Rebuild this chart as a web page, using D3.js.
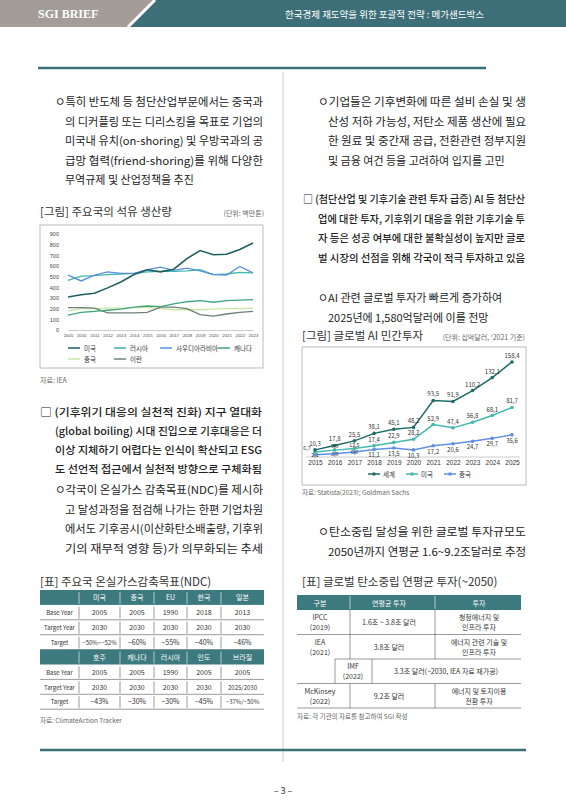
<!DOCTYPE html>
<html><head><meta charset="utf-8">
<script src="https://d3js.org/d3.v7.min.js"></script>
<style>body{margin:0;background:#fff}svg{display:block;font-family:"Noto Sans CJK KR",sans-serif}</style>
</head><body><svg id="s" width="566" height="800"></svg>
<script>
const oilYears=["2005","2010","2011","2012","2013","2014","2015","2016","2017","2018","2019","2020","2021","2022","2023"];
const oilUS=[310,330,345,395,450,520,565,545,570,670,745,705,710,755,815];
const oilRussia=[465,505,510,520,525,530,545,550,550,555,565,520,525,540,535];
const oilSaudi=[515,460,515,545,530,530,565,590,560,580,555,520,515,595,535];
const oilCanada=[140,165,175,185,195,215,225,220,245,265,275,260,275,280,285];
const oilChina=[180,200,200,205,205,210,215,200,190,190,190,195,200,200,205];
const oilIran=[210,210,205,160,160,160,165,215,215,200,145,130,150,165,175];
const oilNames=["미국","러시아","사우디아라비아","캐나다","중국","이란"];
const oilColors=["#1f5f63","#3fb5b0","#5b8fe0","#3fa579","#c6e7a5","#6f7f78"];
const oilTicks=[0,100,200,300,400,500,600,700,800,900];
const aiYears=["2015","2016","2017","2018","2019","2020","2021","2022","2023","2024","2025"];
const aiWorld=[10.3,17.8,25.5,38.1,45.1,48.2,93.5,91.9,110.2,132.1,158.4];
const aiUS=[6.7,9.9,12.5,17.4,22.9,28.2,52.9,47.4,56.8,68.1,81.7];
const aiChina=[2.1,3.9,6.6,11.1,13.5,10.3,17.2,20.6,24.7,29.7,35.6];
const aiNames=["세계","미국","중국"];
const aiColors=["#1f6b66","#45b8ad","#5f8fe8"];
const ndcCols1=["미국","중국","EU","한국","일본"];
const ndcBase1=["2005","2005","1990","2018","2013"];
const ndcTarget1=["2030","2030","2030","2030","2030"];
const ndcPct1=["−50%~−52%","−60%","−55%","−40%","−46%"];
const ndcCols2=["호주","캐나다","러시아","인도","브라질"];
const ndcBase2=["2005","2005","1990","2005","2005"];
const ndcTarget2=["2030","2030","2030","2030","2025/2030"];
const ndcPct2=["−43%","−30%","−30%","−45%","−37%/−50%"];

const svg=d3.select("#s");
const T="#3d6f78";
svg.append("rect").attr("x",0).attr("y",0).attr("width",566).attr("height",27).attr("fill",T);
svg.append("path").attr("d","M0,0H155L128,27H0Z").attr("fill","#a39c98");
svg.append("path").attr("d","M155,0L128,27").attr("stroke","#fff").attr("stroke-width",3);
svg.append("text").attr("x",38).attr("y",18).attr("fill","#fff").attr("font-family","Liberation Serif,serif").attr("font-weight","bold").attr("font-size",12).text("SGI BRIEF");
svg.append("text").attr("x",484).attr("y",18).attr("text-anchor","end").attr("fill","#fff").attr("font-size",9.5).text("한국경제 재도약을 위한 포괄적 전략 : 메가샌드박스");
svg.append("line").attr("x1",38).attr("x2",486).attr("y1",68).attr("y2",68).attr("stroke",T).attr("stroke-width",2.5);
svg.append("line").attr("x1",283).attr("x2",283).attr("y1",72).attr("y2",762).attr("stroke","#ccc").attr("stroke-width",1);
svg.append("line").attr("x1",40).attr("x2",526).attr("y1",750).attr("y2",750).attr("stroke",T).attr("stroke-width",2.5);
svg.append("text").attr("x",283).attr("y",794).attr("text-anchor","middle").attr("font-size",9).attr("fill","#333").text("– 3 –");

function lines(x,y,dy,arr,opt={}){arr.forEach((t,i)=>{const full=opt.len&&!(opt.last===false&&i==arr.length-1);svg.append("text").attr("x",i==0?x:x+(opt.ind||0)).attr("y",y+i*dy).attr("font-size",opt.fs||11).attr("fill","#222").attr("font-weight",opt.w||"normal").attr("textLength",full?(i==0?opt.len:opt.len-(opt.ind||0)):null).attr("lengthAdjust","spacingAndGlyphs").text(t);});}
lines(55,106,19.5,["ㅇ특히 반도체 등 첨단산업부문에서는 중국과","의 디커플링 또는 디리스킹을 목표로 기업의","미국내 유치(on-shoring) 및 우방국과의 공","급망 협력(friend-shoring)를 위해 다양한","무역규제 및 산업정책을 추진"],{ind:10,len:208,last:false});
lines(318,106,19.5,["ㅇ기업들은 기후변화에 따른 설비 손실 및 생","산성 저하 가능성, 저탄소 제품 생산에 필요","한 원료 및 중간재 공급, 전환관련 정부지원","및 금융 여건 등을 고려하여 입지를 고민"],{ind:10,len:208,last:false});
lines(303,203,19.5,["□ (첨단산업 및 기후기술 관련 투자 급증) AI 등 첨단산","업에 대한 투자, 기후위기 대응을 위한 기후기술 투","자 등은 성공 여부에 대한 불확실성이 높지만 글로","벌 시장의 선점을 위해 각국이 적극 투자하고 있음"],{ind:15,len:222,w:"500",fs:10.5});
lines(318,302,19.5,["ㅇAI 관련 글로벌 투자가 빠르게 증가하여","2025년에 1,580억달러에 이를 전망"],{ind:10});
lines(40,416,19,["□ (기후위기 대응의 실천적 진화) 지구 열대화","(global boiling) 시대 진입으로 기후대응은 더","이상 지체하기 어렵다는 인식이 확산되고 ESG","도 선언적 접근에서 실천적 방향으로 구체화됨"],{ind:15,len:222,w:"500",fs:10.5});
lines(55,494,19.5,["ㅇ각국이 온실가스 감축목표(NDC)를 제시하","고 달성과정을 점검해 나가는 한편 기업차원","에서도 기후공시(이산화탄소배출량, 기후위","기의 재무적 영향 등)가 의무화되는 추세"],{ind:10,len:208});
lines(318,536,19.5,["ㅇ탄소중립 달성을 위한 글로벌 투자규모도","2050년까지 연평균 1.6~9.2조달러로 추정"],{ind:10,len:208});

function title(x,y,t,u,ux){svg.append("text").attr("x",x).attr("y",y).attr("font-size",11.5).attr("fill","#333").text(t);if(u)svg.append("text").attr("x",ux).attr("y",y).attr("text-anchor","end").attr("font-size",7).attr("fill","#666").text(u);}
title(40,216,"[그림] 주요국의 석유 생산량","(단위: 백만톤)",264);
svg.append("rect").attr("x",40).attr("y",225).attr("width",223).attr("height",143).attr("fill","none").attr("stroke","#bbb");
const x1=d3.scalePoint().domain(oilYears).range([68,253]);
const y1=d3.scaleLinear().domain([0,900]).range([330,234]);
const g1=svg.append("g");
g1.append("g").attr("transform","translate(62,0)").call(d3.axisLeft(y1).tickValues(oilTicks).tickSize(0)).call(g=>{g.select(".domain").remove();g.selectAll("text").attr("font-size",5.5).attr("fill","#444").attr("x",-3);});
g1.append("g").attr("transform","translate(0,330)").call(d3.axisBottom(x1).tickSize(0)).call(g=>{g.select(".domain").attr("stroke","#ccc");g.selectAll("text").attr("font-size",4.3).attr("fill","#444").attr("dy","0.9em");});
const oilSeries=[oilUS,oilRussia,oilSaudi,oilCanada,oilChina,oilIran];
const ln1=d3.line().x((d,i)=>x1(oilYears[i])).y(d=>y1(d));
[4,5,3,1,2,0].forEach(k=>g1.append("path").attr("d",ln1(oilSeries[k])).attr("fill","none").attr("stroke",oilColors[k]).attr("stroke-width",k==0?1.6:1.3));
const lp=[[68,348],[114,348],[160,348],[218,348],[68,359],[114,359]];
oilNames.forEach((n,k)=>{g1.append("line").attr("x1",lp[k][0]).attr("x2",lp[k][0]+12).attr("y1",lp[k][1]).attr("y2",lp[k][1]).attr("stroke",oilColors[k]).attr("stroke-width",1.5);g1.append("text").attr("x",lp[k][0]+16).attr("y",lp[k][1]+2.5).attr("font-size",6.5).attr("fill","#333").text(n);});
svg.append("text").attr("x",40).attr("y",383).attr("font-size",7).attr("fill","#666").text("자료: IEA");

title(302,340,"[그림] 글로벌 AI 민간투자","(단위: 십억달러, '2021 기준)",525);
svg.append("rect").attr("x",302).attr("y",347).attr("width",224).attr("height",138).attr("fill","none").attr("stroke","#bbb");
const x2=d3.scalePoint().domain(aiYears).range([315,512]);
const y2=d3.scaleLinear().domain([0,160]).range([456,361]);
const g2=svg.append("g");
g2.append("g").attr("transform","translate(0,457)").call(d3.axisBottom(x2).tickSize(0)).call(g=>{g.select(".domain").attr("stroke","#ccc").attr("d","M306,0H520");g.selectAll("text").attr("font-size",6.5).attr("fill","#333").attr("dy","0.75em");});
const aiSeries=[aiWorld,aiUS,aiChina];
const ln2=d3.line().x((d,i)=>x2(aiYears[i])).y(d=>y2(d));
[2,1,0].forEach(k=>{g2.append("path").attr("d",ln2(aiSeries[k])).attr("fill","none").attr("stroke",aiColors[k]).attr("stroke-width",1.5);
 g2.selectAll(null).data(aiSeries[k]).join("circle").attr("cx",(d,i)=>x2(aiYears[i])).attr("cy",d=>y2(d)).attr("r",1.8).attr("fill",aiColors[k]);});
[0,1,2].forEach(k=>g2.selectAll(null).data(aiSeries[k]).join("text").attr("x",(d,i)=>x2(aiYears[i])+(i==0&&k==1?-8:0)).attr("y",(d,i)=>k==2?y2(d)+(i<3?2:8):(k==1&&i<3?y2(d)-2:y2(d)-4)).attr("text-anchor","middle").attr("font-size",(d,i)=>i<3&&k>0?5.3:6).attr("fill","#333").text(d=>d.toFixed(1).replace(".",",")));
aiNames.forEach((n,k)=>{const lx=368+k*38;g2.append("line").attr("x1",lx).attr("x2",lx+12).attr("y1",474).attr("y2",474).attr("stroke",aiColors[k]).attr("stroke-width",1.5);g2.append("circle").attr("cx",lx+6).attr("cy",474).attr("r",1.8).attr("fill",aiColors[k]);g2.append("text").attr("x",lx+15).attr("y",476.5).attr("font-size",6.5).attr("fill","#333").text(n);});
svg.append("text").attr("x",302).attr("y",495).attr("font-size",6.5).attr("fill","#666").text("자료: Statista(2023); Goldman Sachs");

title(40,586,"[표] 주요국 온실가스감축목표(NDC)");
const tx=[40,79,120,154,187,221,264], rh=14.9, ty=590;
const rows=[["",...ndcCols1],["Base Year",...ndcBase1],["Target Year",...ndcTarget1],["Target",...ndcPct1],["",...ndcCols2],["Base Year",...ndcBase2],["Target Year",...ndcTarget2],["Target",...ndcPct2]];
rows.forEach((r,i)=>{const y=ty+i*rh,hd=(i%4==0);
 if(hd)svg.append("rect").attr("x",40).attr("y",y).attr("width",224).attr("height",rh).attr("fill","#3d7a80");
 else svg.append("line").attr("x1",40).attr("x2",264).attr("y1",y+rh).attr("y2",y+rh).attr("stroke","#555").attr("stroke-width",0.6);
 r.forEach((c,j)=>{svg.append("text").attr("x",(tx[j]+tx[j+1])/2).attr("y",y+rh/2+2.7).attr("text-anchor","middle").attr("font-size",j==0?6:(c.length>6?6:7)).attr("fill",hd?"#fff":"#333").text(c);
  if(j>0)svg.append("line").attr("x1",tx[j]).attr("x2",tx[j]).attr("y1",y+2).attr("y2",y+rh-1).attr("stroke",hd?"#fff":"#555").attr("stroke-width",0.6);});});
svg.append("text").attr("x",40).attr("y",723).attr("font-size",6.5).attr("fill","#666").text("자료: ClimateAction Tracker");

title(302,586,"[표] 글로벌 탄소중립 연평균 투자(~2050)");
svg.append("rect").attr("x",297).attr("y",595).attr("width",224).attr("height",15).attr("fill","#3d7a80");
[["구분",320],["연평균 투자",389],["투자",479]].forEach(([t,x])=>svg.append("text").attr("x",x).attr("y",605.5).attr("text-anchor","middle").attr("font-size",7).attr("fill","#fff").text(t));
[350,435].forEach(x=>svg.append("line").attr("x1",x).attr("x2",x).attr("y1",596).attr("y2",609).attr("stroke","#fff").attr("stroke-width",0.6));
const t2=[["IPCC","(2019)","1.6조 ~ 3.8조 달러","청정에너지 및","인프라 투자"],["IEA","(2021)","3.8조 달러","에너지 관련 기술 및","인프라 투자"],["IMF","(2022)","3.3조 달러(~2030, IEA 자료 재가공)","",""],["McKinsey","(2022)","9.2조 달러","에너지 및 토지이용","전환 투자"]];
t2.forEach((r,i)=>{const y=610+i*24.5;
 const cx=i==2?353:320;
 svg.append("text").attr("x",cx).attr("y",y+10).attr("text-anchor","middle").attr("font-size",7).attr("fill","#333").text(r[0]);
 svg.append("text").attr("x",cx).attr("y",y+20).attr("text-anchor","middle").attr("font-size",7).attr("fill","#333").text(r[1]);
 svg.append("text").attr("x",i==2?446:389).attr("y",y+15).attr("text-anchor","middle").attr("font-size",7).attr("fill","#333").text(r[2]);
 if(r[3]){svg.append("text").attr("x",479).attr("y",y+10).attr("text-anchor","middle").attr("font-size",7).attr("fill","#333").text(r[3]);svg.append("text").attr("x",479).attr("y",y+20).attr("text-anchor","middle").attr("font-size",7).attr("fill","#333").text(r[4]);}
 svg.append("line").attr("x1",i==1?335:297).attr("x2",521).attr("y1",y+24.5).attr("y2",y+24.5).attr("stroke","#555").attr("stroke-width",0.6);
 if(i==2){[335,372].forEach(x=>svg.append("line").attr("x1",x).attr("x2",x).attr("y1",y).attr("y2",y+24.5).attr("stroke","#555").attr("stroke-width",0.6));}
 else{[350,435].forEach(x=>svg.append("line").attr("x1",x).attr("x2",x).attr("y1",y).attr("y2",y+24.5).attr("stroke","#555").attr("stroke-width",0.6));}
});
svg.append("text").attr("x",297).attr("y",719).attr("font-size",6.5).attr("fill","#666").text("자료: 각 기관의 자료를 참고하여 SGI 작성");
</script></body></html>
